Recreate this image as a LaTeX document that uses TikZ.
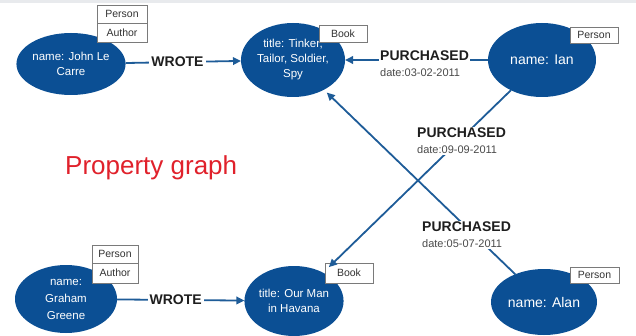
\documentclass[tikz,border=0pt]{standalone}
\usepackage{fontspec}
\setmainfont{Liberation Sans}
\usetikzlibrary{shapes.geometric,arrows.meta}
\definecolor{entblue}{HTML}{0B4F94}
\definecolor{edgeblue}{HTML}{1E5C98}
\definecolor{tagframe}{HTML}{7A7A7A}
\definecolor{titlered}{HTML}{E0212B}
\definecolor{topband}{HTML}{E8EAED}
\definecolor{labeltext}{HTML}{1E1E1E}
\definecolor{datetext}{HTML}{4A4A4A}
\begin{document}
\begin{tikzpicture}[x=1pt,y=-1pt,
  entity/.style={ellipse, fill=entblue, text=white, inner sep=0pt, outer sep=0pt,
    align=center, font=\fontsize{11.5}{15}\selectfont},
  bigentity/.style={entity, font=\fontsize{14}{17}\selectfont},
  tag/.style={draw=tagframe, line width=0.7pt, fill=white, inner sep=0pt,
    font=\fontsize{10.5}{12}\selectfont, text=black!80},
  rel/.style={draw=edgeblue, line width=1.8pt, -{Triangle[length=8pt,width=7.5pt]}},
  rellabel/.style={fill=white, inner sep=2pt, text=labeltext,
    font=\bfseries\fontsize{14}{16}\selectfont},
  buylabel/.style={fill=white, inner sep=1pt, align=left, anchor=north west,
    text=datetext, font=\fontsize{11}{16}\selectfont},
]
\useasboundingbox (0,0) rectangle (636,336);
\fill[topband] (0,0) rectangle (636,3);

% entities
\node[entity, minimum width=102pt, minimum height=62pt] (john) at (71,64) {name: John Le\\Carre};
\node[entity, minimum width=104pt, minimum height=74pt] (tinker) at (293,60) {title: Tinker,\\Tailor, Soldier,\\Spy};
\node[bigentity, minimum width=108pt, minimum height=74pt] (ian) at (542,60) {name: Ian};
\node[entity, minimum width=102pt, minimum height=68pt, font=\fontsize{11.5}{17}\selectfont] (graham) at (66,299) {name:\\Graham\\Greene};
\node[entity, minimum width=98pt, minimum height=70pt] (ourman) at (294,301) {title: Our Man\\in Havana};
\node[bigentity, minimum width=106pt, minimum height=66pt] (alan) at (544,302) {name: Alan};

% type tags
\node[tag, minimum width=50pt, minimum height=18pt] (johnperson) at (122,14) {Person};
\node[tag, minimum width=50pt, minimum height=19pt] (johnauthor) at (122,32.5) {Author};
\node[tag, minimum width=48pt, minimum height=17pt] (tinkerbook) at (343,33.5) {Book};
\node[tag, minimum width=48pt, minimum height=16pt] (ianperson) at (594,35) {Person};
\node[tag, minimum width=46pt, minimum height=18pt] (grahamperson) at (115,254) {Person};
\node[tag, minimum width=46pt, minimum height=20pt] (grahamauthor) at (115,273) {Author};
\node[tag, minimum width=48pt, minimum height=20pt] (ourmanbook) at (349,273) {Book};
\node[tag, minimum width=49pt, minimum height=16pt] (alanperson) at (594.5,275) {Person};

% relationships
\draw[rel] (john) -- node[rellabel, pos=0.45] (wrote1) {WROTE} (tinker);
\draw[rel] (graham) -- node[rellabel, pos=0.46] (wrote2) {WROTE} (ourman);
\draw[rel] (ian) -- (tinker);
\draw[rel, shorten >=8pt] (ian) -- (ourman);
\draw[rel, shorten >=4pt] (alan) -- (tinker);

\node[buylabel] (buy1) at (379,49.5) {{\bfseries\fontsize{14}{16}\selectfont\color{labeltext}PURCHASED}\\date:03-02-2011};
\node[buylabel] (buy2) at (416,127) {{\bfseries\fontsize{14}{16}\selectfont\color{labeltext}PURCHASED}\\date:09-09-2011};
\node[buylabel] (buy3) at (421,221) {{\bfseries\fontsize{14}{16}\selectfont\color{labeltext}PURCHASED}\\date:05-07-2011};

\node[text=titlered, font=\fontsize{26}{30}\selectfont, anchor=base west, inner sep=0pt] (title) at (65,175) {Property graph};
\end{tikzpicture}
\end{document}
